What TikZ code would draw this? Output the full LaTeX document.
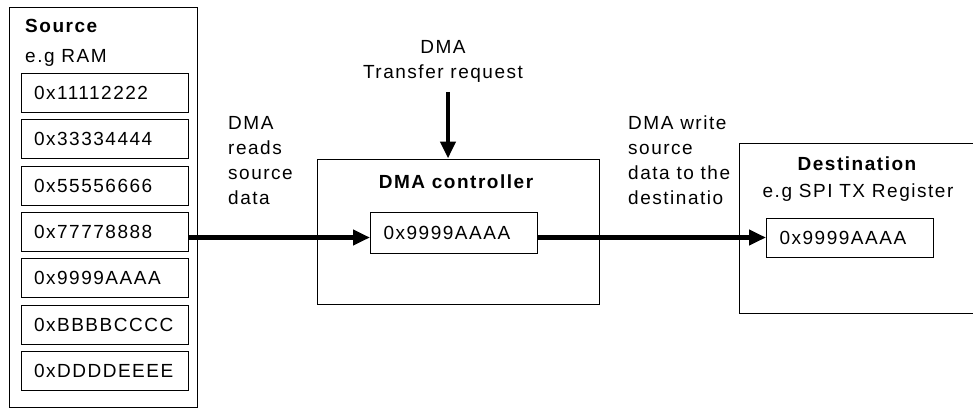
\documentclass[tikz,border=0pt]{standalone}
\usepackage{fontspec}
\setmainfont{Liberation Sans}[LetterSpace=8]
\usetikzlibrary{arrows.meta}

\begin{document}
\begin{tikzpicture}[x=1pt,y=1pt,yscale=-1,
  box/.style={draw,line width=1pt,inner sep=0pt},
  cell/.style={draw,line width=1pt,minimum width=167pt,minimum height=39pt,
    text width=141pt,inner xsep=13pt,inner ysep=0pt,align=left,
    font=\fontsize{19}{25}\selectfont},
  lbl/.style={inner sep=0pt,font=\fontsize{19}{25}\selectfont},
  head/.style={inner sep=0pt,font=\fontsize{19}{25}\selectfont\bfseries},
  flow/.style={line width=4.5pt,-{Triangle[length=17pt,width=15pt]}}]
\path[use as bounding box,clip] (0,0) rectangle (973,409);

% Source memory
\node[box,minimum width=188pt,minimum height=400pt] (src) at (103,207.5) {};
\node[head,anchor=base west] (srcname) at (25,33) {Source};
\node[lbl,anchor=base west] (srcex) at (25,63) {e.g RAM};
\foreach \val [count=\i] in {0x11112222,0x33334444,0x55556666,0x77778888,0x9999AAAA,0xBBBBCCCC,0xDDDDEEEE}
  \node[cell] (s\i) at (104.5,{46.3*\i+46.7}) {\val};

% DMA controller
\node[box,minimum width=282pt,minimum height=145pt] (ctl) at (458,231.5) {};
\node[head,anchor=base] (ctlname) at (456,188) {DMA controller};
\node[cell,minimum height=41pt] (cbuf) at (454,232.5) {0x9999AAAA};

% Destination
\node[box,minimum width=261pt,minimum height=170pt] (dst) at (869.5,228) {};
\node[head,anchor=base] (dstname) at (857,170) {Destination};
\node[lbl,anchor=base] (dstex) at (858,197) {e.g SPI TX Register};
\node[cell] (dbuf) at (850,237.5) {0x9999AAAA};

% Text Node
\node[lbl,align=center,anchor=north] (req) at (443,40) {DMA\\Transfer request};
\node[lbl,align=left,anchor=north west] (rdlbl) at (228,116) {DMA\\reads\\source\\data};
\node[lbl,align=left,anchor=north west] (wrlbl) at (628,116) {DMA write\\source\\data to the\\destinatio};

% Arrows
\coordinate (reqend) at (448,92);
\draw[flow] (reqend) -- (reqend |- ctl.north);
\draw[flow] (s4.east |- dbuf.west) -- (cbuf.west |- dbuf.west);
\draw[flow] (cbuf.east |- dbuf.west) -- (dbuf.west);

\end{tikzpicture}
\end{document}
